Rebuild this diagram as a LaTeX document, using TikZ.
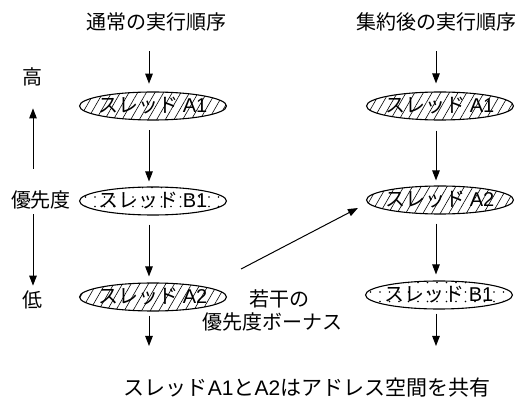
\documentclass[tikz,border=0pt]{standalone}
\usepackage{fontspec}
\setmainfont{Liberation Sans}
\newfontfamily\jp{Noto Sans CJK JP}
\usetikzlibrary{arrows.meta,patterns.meta,shapes.geometric}
\begin{document}
\begin{tikzpicture}[x=1pt,y=-1pt,
  thread/.style={ellipse,draw,line width=1.1pt,minimum width=147pt,minimum height=28pt,inner sep=0pt},
  hatchthread/.style={thread,pattern={Lines[angle=60,distance=7.5pt,line width=0.6pt]}},
  dotthread/.style={thread,pattern={Dots[distance=9.5pt,radius=0.8pt]}},
  lbl/.style={font=\fontsize{20}{24}\selectfont,inner sep=0pt},
  arr/.style={line width=1pt,-{Triangle[length=10pt,width=7.5pt]}}]
\useasboundingbox (0,0) rectangle (528,406);

% titles
\node[lbl] (t1) at (156,22) {\jp 通常の実行順序};
\node[lbl] (t2) at (436,22) {\jp 集約後の実行順序};

% columns for arrows
\coordinate (colL) at (149,0);
\coordinate (colR) at (436,0);

% left column
\node[hatchthread] (a1l) at (153,106) {};
\node[lbl] at (a1l) {{\jp スレッド}\hspace{4pt}A1};
\node[dotthread] (b1l) at (153,201) {};
\node[lbl] at (b1l) {{\jp スレッド}\hspace{4pt}B1};
\node[hatchthread] (a2l) at (153,297) {};
\node[lbl] at (a2l) {{\jp スレッド}\hspace{4pt}A2};
\coordinate (endL) at (149,346);

% right column
\node[hatchthread] (a1r) at (440,106) {};
\node[lbl] at (a1r) {{\jp スレッド}\hspace{4pt}A1};
\node[hatchthread] (a2r) at (440,200) {};
\node[lbl] at (a2r) {{\jp スレッド}\hspace{4pt}A2};
\node[dotthread] (b1r) at (439,295) {};
\node[lbl] at (b1r) {{\jp スレッド}\hspace{4pt}B1};
\coordinate (endR) at (436,346);

% left arrows
\draw[arr,shorten <=20pt,shorten >=8pt] (t1.south -| colL) -- (a1l.north -| colL);
\draw[arr,shorten <=10pt,shorten >=5pt] (a1l.south -| colL) -- (b1l.north -| colL);
\draw[arr,shorten <=9pt,shorten >=6pt] (b1l.south -| colL) -- (a2l.north -| colL);
\draw[arr,shorten <=4pt] (a2l.south -| colL) -- (endL);

% right arrows
\draw[arr,shorten <=20pt,shorten >=8pt] (t2.south -| colR) -- (a1r.north -| colR);
\draw[arr,shorten <=10pt,shorten >=5pt] (a1r.south -| colR) -- (a2r.north -| colR);
\draw[arr,shorten <=9pt,shorten >=6pt] (a2r.south -| colR) -- (b1r.north -| colR);
\draw[arr,shorten <=4pt] (b1r.south -| colR) -- (endR);

% priority axis
\node[lbl] (high) at (33,77) {\jp 高};
\node[lbl] (prio) at (41,200) {\jp 優先度};
\node[lbl] (low) at (33,300) {\jp 低};
\draw[arr,shorten <=22pt,shorten >=22pt] (prio.north -| high) -- (high.south);
\draw[arr,shorten <=5pt,shorten >=5pt] (prio.south -| low) -- (low.north);

% bonus
\draw[arr] ([xshift=14pt,yshift=28pt]a2l.east) -- ([xshift=-8pt,yshift=-8pt]a2r.west);
\node[lbl] (bonus1) at (279,299) {\jp 若干の};
\node[lbl] (bonus2) at (272,322) {\jp 優先度ボーナス};

% note
\node[lbl,font=\fontsize{21}{25}\selectfont] (note) at (307,388) {{\jp スレッド}A1{\jp と}A2{\jp はアドレス空間を共有}};
\end{tikzpicture}
\end{document}
